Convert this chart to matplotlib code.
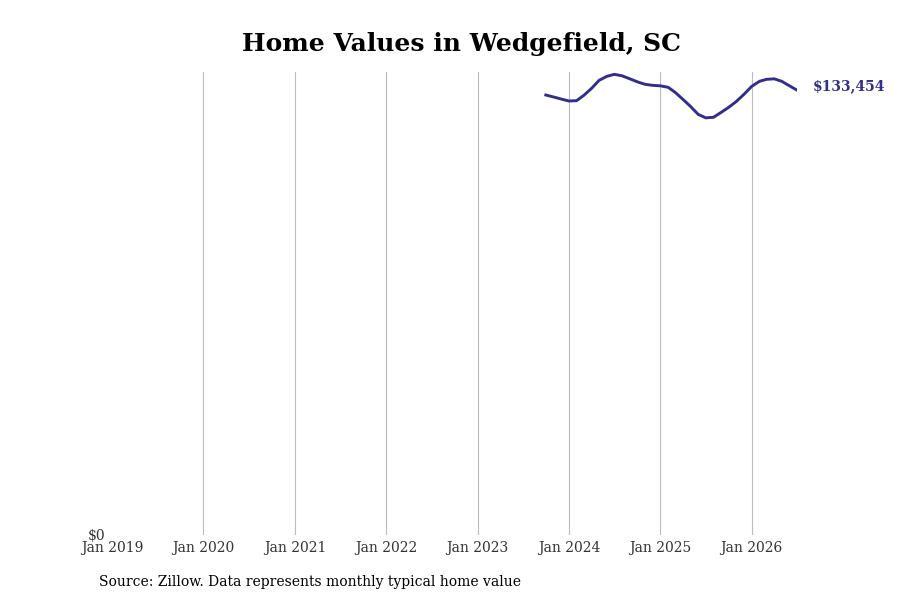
import matplotlib
matplotlib.use("Agg")
import matplotlib.pyplot as plt
import pandas as pd

# monthly typical home value
months = pd.date_range("2023-10-01", "2026-07-01", freq="MS")
values = [
    132000, 131400, 130800, 130200, 130300, 131900, 134000, 136400, 137600,
    138200, 137750, 136850, 135950, 135200, 134900, 134750, 134300, 132800,
    130700, 128600, 126200, 125150, 125300, 126800, 128300, 130100, 132200,
    134600, 136100, 136700, 136850, 136100, 134750, 133454,
]
tick_years = list(range(2019, 2027))
line_color = "#322f8c"

plt.rcParams["font.family"] = ["DejaVu Serif"]

fig = plt.figure(figsize=(9, 6), dpi=100)
ax = fig.add_axes([112 / 900, 1 - 535 / 600, (797 - 112) / 900, (535 - 72) / 600])

ax.plot(months, values, color=line_color, linewidth=2.1)

ax.set_xlim(pd.Timestamp("2019-01-01"), pd.Timestamp("2026-07-01"))
ax.set_ylim(0, 138900)

ticks = [pd.Timestamp(f"{y}-01-01") for y in tick_years]
ax.set_xticks(ticks)
ax.set_xticklabels([t.strftime("Jan %Y") for t in ticks])
ax.set_yticks([0])
ax.set_yticklabels(["$0"])
ax.tick_params(length=0, labelsize=10, colors="#333333")
ax.tick_params(axis="x", pad=4)
ax.tick_params(axis="y", pad=5)

for t in ticks[1:]:
    ax.axvline(t, color="#bbbbbb", linewidth=0.8, zorder=0)

for s in ax.spines.values():
    s.set_visible(False)

ax.annotate(f"${values[-1]:,}", xy=(months[-1], values[-1]), xytext=(11, 3),
            textcoords="offset points", color=line_color, fontsize=10,
            fontweight="bold", va="center", ha="left", annotation_clip=False)

fig.text(461 / 900, 1 - 44 / 600, "Home Values in Wedgefield, SC",
         ha="center", va="center", fontsize=18, fontweight="bold")
fig.text(99 / 900, 1 - 582 / 600,
         "Source: Zillow. Data represents monthly typical home value",
         ha="left", va="center", fontsize=10)

fig.savefig("out.png", dpi=100)
